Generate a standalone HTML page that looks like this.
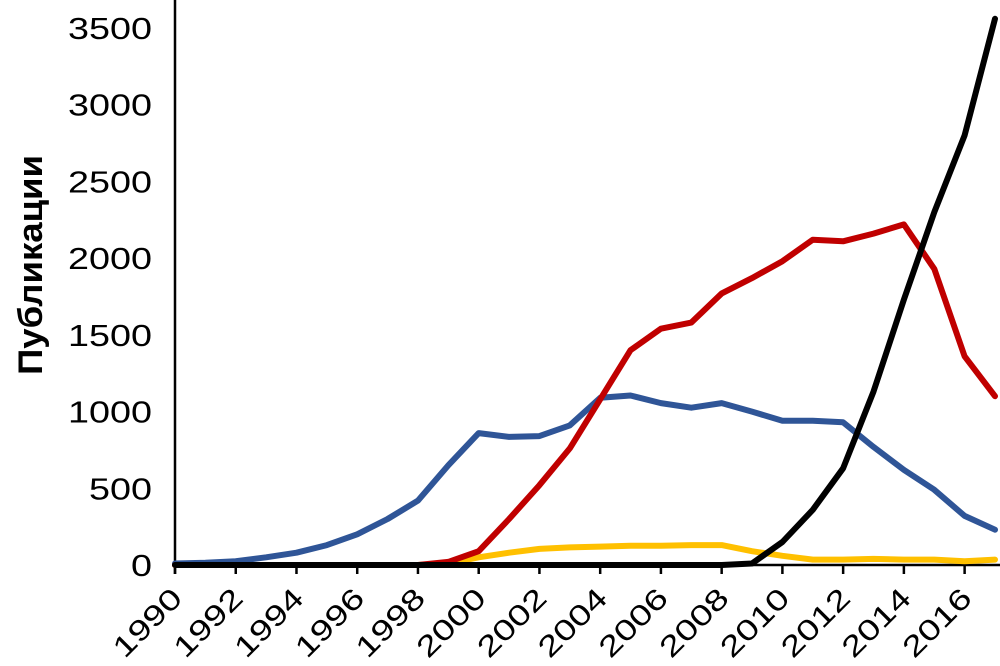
<!DOCTYPE html>
<html><head><meta charset="utf-8"><style>
html,body{margin:0;padding:0;background:#fff;}
svg{display:block;}
text{font-family:"Liberation Sans","DejaVu Sans",sans-serif;fill:#000;}
</style></head><body>
<svg id="c" width="1000" height="666" viewBox="0 0 1000 666" xmlns="http://www.w3.org/2000/svg">
<g id="g"></g>
</svg>
<script>
var X0=175,DX=30.37,Y0=565,SY=(565-28)/3500;
function px(i){return X0+i*DX}function py(v){return Y0-v*SY}
var s='';
s+='<line x1="175" y1="0" x2="175" y2="574" stroke="#000" stroke-width="2.5"/>';
s+='<line x1="172" y1="565" x2="1000" y2="565" stroke="#000" stroke-width="2.5"/>';
for(var v=0;v<=3500;v+=500){var t=String(v);s+='<text x="152" y="'+(py(v)+11)+'" font-size="31" text-anchor="end" textLength="'+(t.length*21)+'" lengthAdjust="spacingAndGlyphs">'+t+'</text>';}
for(var i=0;i<=26;i+=2){var x=px(i);s+='<line x1="'+x+'" y1="565" x2="'+x+'" y2="574" stroke="#000" stroke-width="2.5"/>';}
for(var i=0;i<=26;i+=2){var x=px(i)+9,y=600;s+='<text x="'+x+'" y="'+y+'" font-size="29" text-anchor="end" textLength="84" lengthAdjust="spacingAndGlyphs" transform="rotate(-45 '+x+' '+y+')">'+(1990+i)+'</text>';}
s+='<text x="42" y="265" font-size="34" font-weight="bold" text-anchor="middle" textLength="220" lengthAdjust="spacingAndGlyphs" transform="rotate(-90 42 265)">Публикации</text>';
var D={
"#FFC000":[0,0,0,0,0,0,0,0,0,10,50,80,105,115,120,125,125,130,130,90,60,35,35,40,35,35,25,35],
"#2F5597":[10,15,25,50,80,130,200,300,420,650,860,835,840,910,1090,1105,1055,1025,1055,1000,940,940,930,770,620,490,320,230],
"#C00000":[0,0,0,0,0,0,0,0,0,20,90,300,520,760,1080,1400,1540,1580,1770,1870,1980,2120,2110,2160,2220,1930,1360,1100],
"#000000":[0,0,0,0,0,0,0,0,0,0,0,0,0,0,0,0,0,0,0,10,150,360,630,1130,1730,2300,2800,3560]};
for(var c in D){var p=D[c].map(function(v,i){return px(i).toFixed(1)+','+py(v).toFixed(1)}).join(' ');
s+='<polyline points="'+p+'" fill="none" stroke="'+c+'" stroke-width="6" stroke-linejoin="round" stroke-linecap="round"/>';}
document.getElementById('g').innerHTML=s;
</script>
</body></html>
